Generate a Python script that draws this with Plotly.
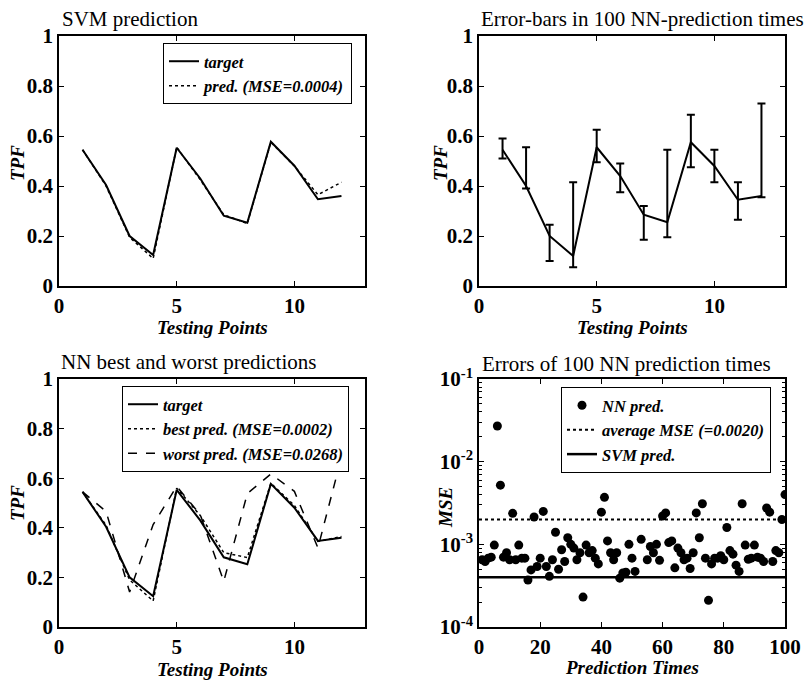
import plotly.graph_objects as go

# ---------------- data ----------------
points = [1, 2, 3, 4, 5, 6, 7, 8, 9, 10, 11, 12]
target = [0.545, 0.404, 0.200, 0.124, 0.553, 0.430, 0.281, 0.253, 0.577, 0.481, 0.347, 0.360]
svm_pred = [0.545, 0.400, 0.195, 0.110, 0.555, 0.425, 0.285, 0.250, 0.575, 0.480, 0.365, 0.415]

nn_mean = [0.545, 0.400, 0.200, 0.120, 0.555, 0.440, 0.285, 0.255, 0.575, 0.480, 0.345, 0.360]
nn_hi = [0.590, 0.555, 0.245, 0.415, 0.625, 0.490, 0.320, 0.545, 0.685, 0.545, 0.415, 0.730]
nn_lo = [0.510, 0.390, 0.100, 0.075, 0.495, 0.375, 0.185, 0.195, 0.475, 0.415, 0.265, 0.355]

best_pred = [0.545, 0.410, 0.190, 0.105, 0.560, 0.450, 0.300, 0.280, 0.580, 0.490, 0.345, 0.365]
worst_pred = [0.545, 0.466, 0.141, 0.413, 0.567, 0.453, 0.184, 0.538, 0.617, 0.547, 0.319, 0.685]

times = list(range(1, 101))
mse_nn = [
    6.5e-4, 6.2e-4, 6.8e-4, 7.0e-4, 9.8e-4, 2.7e-2, 5.2e-3, 7.0e-4, 7.9e-4, 6.5e-4,
    2.37e-3, 6.5e-4, 9.8e-4, 6.8e-4, 6.8e-4, 3.7e-4, 4.9e-4, 2.14e-3, 5.4e-4, 6.8e-4,
    2.5e-3, 5.4e-4, 4.1e-4, 6.5e-4, 1.4e-3, 5.0e-4, 8.6e-4, 6.2e-4, 1.2e-3, 1.0e-3,
    9.0e-4, 6.5e-4, 7.9e-4, 2.3e-4, 9.8e-4, 7.9e-4, 8.4e-4, 6.8e-4, 5.8e-4, 2.45e-3,
    3.7e-3, 1.1e-3, 7.9e-4, 6.5e-4, 7.9e-4, 3.9e-4, 4.5e-4, 4.6e-4, 1.0e-3, 6.8e-4,
    4.7e-4, 9.6e-3, 1.15e-3, 1.01e-2, 6.5e-4, 9.4e-4, 7.9e-4, 1.0e-3, 6.4e-4, 2.2e-3,
    2.4e-3, 1.05e-3, 1.1e-3, 5.2e-4, 9.0e-4, 7.9e-4, 6.5e-4, 6.8e-4, 5.1e-4, 7.9e-4,
    2.4e-3, 1.2e-3, 3.1e-3, 6.8e-4, 2.1e-4, 5.8e-4, 6.8e-4, 6.8e-4, 7.3e-4, 6.5e-4,
    1.6e-3, 8.4e-4, 7.6e-4, 5.6e-4, 4.7e-4, 3.1e-3, 9.8e-4, 6.6e-4, 6.8e-4, 9.8e-4,
    7.0e-4, 6.8e-4, 6.2e-4, 2.75e-3, 2.45e-3, 6.2e-4, 8.4e-4, 7.9e-4, 2.0e-3, 4.0e-3,
]
avg_mse = 0.0020
svm_mse = 0.0004
time_span = [0, 100]

x_ticks_pts = [0, 5, 10]
y_ticks_tpf = [0, 0.2, 0.4, 0.6, 0.8, 1]
y_ticklabels_tpf = ["0", "0.2", "0.4", "0.6", "0.8", "1"]
x_ticks_times = [0, 20, 40, 60, 80, 100]
y_ticks_mse = [1e-4, 1e-3, 1e-2, 1e-1]
y_ticklabels_mse = ["10<sup>-4</sup>", "10<sup>-3</sup>", "10<sup>-2</sup>", "10<sup>-1</sup>"]
y_minor_mse = [m * d for d in y_ticks_mse[:-1] for m in range(2, 10)]

# ---------------- figure ----------------
W, H = 811, 682
SERIF = "Liberation Serif"
fig = go.Figure()

# panel 1: SVM prediction
fig.add_trace(go.Scatter(x=points, y=target, mode="lines", name="target",
                         line=dict(color="black", width=2), xaxis="x", yaxis="y",
                         legend="legend"))
fig.add_trace(go.Scatter(x=points, y=svm_pred, mode="lines", name="pred. (MSE=0.0004)",
                         line=dict(color="black", width=1.5, dash="dot"), xaxis="x", yaxis="y",
                         legend="legend"))

# panel 2: error bars
fig.add_trace(go.Scatter(
    x=points, y=nn_mean, mode="lines", showlegend=False,
    line=dict(color="black", width=2), xaxis="x2", yaxis="y2",
    error_y=dict(type="data", symmetric=False,
                 array=[h - m for h, m in zip(nn_hi, nn_mean)],
                 arrayminus=[m - l for m, l in zip(nn_mean, nn_lo)],
                 color="black", thickness=2, width=4)))

# panel 3: NN best and worst
fig.add_trace(go.Scatter(x=points, y=target, mode="lines", name="target",
                         line=dict(color="black", width=2), xaxis="x3", yaxis="y3",
                         legend="legend2"))
fig.add_trace(go.Scatter(x=points, y=best_pred, mode="lines", name="best pred. (MSE=0.0002)",
                         line=dict(color="black", width=1.5, dash="dot"), xaxis="x3", yaxis="y3",
                         legend="legend2"))
fig.add_trace(go.Scatter(x=points, y=worst_pred, mode="lines", name="worst pred. (MSE=0.0268)",
                         line=dict(color="black", width=1.5, dash="dash"), xaxis="x3", yaxis="y3",
                         legend="legend2"))

# panel 4: errors
fig.add_trace(go.Scatter(x=times, y=mse_nn, mode="markers", name="NN pred.",
                         marker=dict(color="black", size=9), xaxis="x4", yaxis="y4",
                         legend="legend3"))
fig.add_trace(go.Scatter(x=time_span, y=[avg_mse] * len(time_span), mode="lines",
                         name="average MSE (=0.0020)",
                         line=dict(color="black", width=2, dash="dot"), xaxis="x4", yaxis="y4",
                         legend="legend3"))
fig.add_trace(go.Scatter(x=time_span, y=[svm_mse] * len(time_span), mode="lines",
                         name="SVM pred.",
                         line=dict(color="black", width=2.5), xaxis="x4", yaxis="y4",
                         legend="legend3"))

# ---------------- layout ----------------
def px_x(p):
    return p / W

def px_y(p):
    return 1 - p / H

dom_x_left = [px_x(59), px_x(365)]
dom_x_right = [px_x(479), px_x(785)]
dom_y_top = [px_y(286), px_y(36)]
dom_y_bot = [px_y(627), px_y(379)]

tick_font = dict(family=SERIF, size=21, color="black", weight="bold")
common_ax = dict(showline=True, linecolor="black", linewidth=1.5, mirror="ticks",
                 ticks="inside", ticklen=5, tickwidth=1, tickcolor="black",
                 showgrid=False, zeroline=False, tickfont=tick_font, automargin=False)

def xax(domain, anchor, rng, ticks):
    return dict(domain=domain, anchor=anchor, range=rng, tickvals=ticks, **common_ax)

def yax_lin(domain, anchor):
    return dict(domain=domain, anchor=anchor, range=[0, 1], tickvals=y_ticks_tpf,
                ticktext=y_ticklabels_tpf, **common_ax)

fig.update_layout(
    width=W, height=H,
    margin=dict(l=0, r=0, t=0, b=0),
    paper_bgcolor="white", plot_bgcolor="white",
    font=dict(family=SERIF, color="black"),
    xaxis=xax(dom_x_left, "y", [0, 13], x_ticks_pts),
    yaxis=yax_lin(dom_y_top, "x"),
    xaxis2=xax(dom_x_right, "y2", [0, 13], x_ticks_pts),
    yaxis2=yax_lin(dom_y_top, "x2"),
    xaxis3=xax(dom_x_left, "y3", [0, 13], x_ticks_pts),
    yaxis3=yax_lin(dom_y_bot, "x3"),
    xaxis4=xax(dom_x_right, "y4", [0, 100], x_ticks_times),
    yaxis4=dict(domain=dom_y_bot, anchor="x4", type="log", range=[-4, -1],
                tickvals=y_ticks_mse, ticktext=y_ticklabels_mse,
                minor=dict(ticks="inside", ticklen=3, tickcolor="black",
                           tickvals=y_minor_mse, showgrid=False),
                **common_ax),
)

leg_font = dict(family=SERIF, size=16.5, color="black", style="italic", weight="bold")
leg_common = dict(bgcolor="white", bordercolor="black", borderwidth=1, font=leg_font,
                  xanchor="left", yanchor="top", itemwidth=30, tracegroupgap=0)
fig.update_layout(
    legend=dict(x=px_x(163), y=px_y(43), **leg_common),
    legend2=dict(x=px_x(122), y=px_y(386), **leg_common),
    legend3=dict(x=px_x(561), y=px_y(387), **leg_common),
)

title_font = dict(family=SERIF, size=21, color="black")
ann = []
titles = [
    ("SVM prediction", 60, 19),
    ("Error-bars in 100 NN-prediction times", 479, 19),
    ("NN best and worst predictions", 59, 362),
    ("Errors of 100 NN prediction times", 480, 364),
]
for txt, x, y in titles:
    ann.append(dict(text=txt, x=px_x(x), y=px_y(y), xref="paper", yref="paper",
                    xanchor="left", yanchor="middle", showarrow=False, font=title_font))

lab_font = dict(family=SERIF, size=19, color="black", style="italic", weight="bold")
xlabels = [
    ("Testing Points", 212, 327),
    ("Testing Points", 632, 327),
    ("Testing Points", 212, 669),
    ("Prediction Times", 632, 667),
]
for txt, x, y in xlabels:
    ann.append(dict(text=txt, x=px_x(x), y=px_y(y), xref="paper", yref="paper",
                    xanchor="center", yanchor="middle", showarrow=False, font=lab_font))
ylabels = [
    ("TPF", 17, 163),
    ("TPF", 440, 163),
    ("TPF", 17, 503),
    ("MSE", 445, 507),
]
for txt, x, y in ylabels:
    ann.append(dict(text=txt, x=px_x(x), y=px_y(y), xref="paper", yref="paper",
                    xanchor="center", yanchor="middle", showarrow=False, font=lab_font,
                    textangle=-90))
fig.update_layout(annotations=ann)

fig.write_html("out.html",
               config={"displayModeBar": False},
               post_script="document.body.style.margin='0';document.body.style.padding='0';")
